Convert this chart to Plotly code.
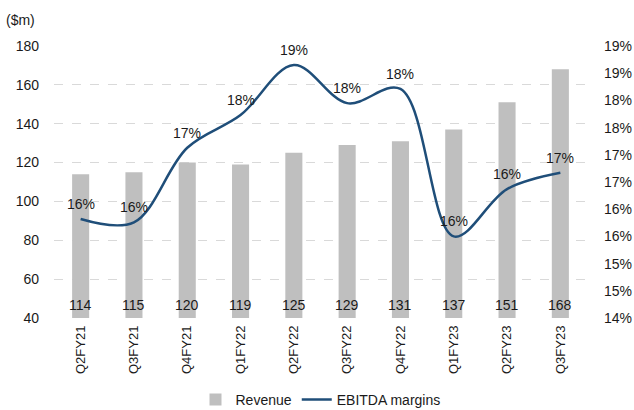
import plotly.graph_objects as go

categories = ["Q2FY21", "Q3FY21", "Q4FY21", "Q1FY22", "Q2FY22",
              "Q3FY22", "Q4FY22", "Q1FY23", "Q2FY23", "Q3FY23"]
revenue = [114, 115, 120, 119, 125, 129, 131, 137, 151, 168]
ebitda_margin = [15.82, 15.76, 17.13, 17.73, 18.65, 17.95, 18.21, 15.5, 16.37, 16.67]

right_ticks = [14 + 0.5 * i for i in range(11)]
right_ticktext = [f"{int(v + 0.5)}%" for v in right_ticks]

FONT = "Liberation Sans, Arial, sans-serif"
TXT = "#1a1a1a"
fig = go.Figure()
fig.add_trace(go.Bar(
    x=categories, y=[r - 40 for r in revenue], base=40, name="Revenue",
    marker=dict(color="#BFBFBF", line=dict(width=0)),
    hoverinfo="skip",
))
fig.add_trace(go.Scatter(
    x=categories, y=ebitda_margin, name="EBITDA margins", yaxis="y2",
    mode="lines", line=dict(color="#1F4E79", width=2.5, shape="spline", smoothing=1.0),
    cliponaxis=False,
))
for c, v in zip(categories, ebitda_margin):
    fig.add_annotation(x=c, y=v, yref="y2", text=f"{int(v + 0.5)}%", showarrow=False,
                       yanchor="middle", yshift=15,
                       font=dict(size=14, color=TXT, family=FONT))
for c, r in zip(categories, revenue):
    fig.add_annotation(x=c, y=40, yref="y", text=str(r), showarrow=False,
                       yanchor="bottom", yshift=3,
                       font=dict(size=14, color=TXT, family=FONT))
fig.add_annotation(xref="paper", yref="paper", x=-0.094, y=1.096, text="($m)",
                   showarrow=False, xanchor="left", yanchor="middle",
                   font=dict(size=14, color=TXT, family=FONT))

fig.update_layout(
    width=634, height=410,
    margin=dict(l=54, r=47, t=46, b=92, autoexpand=False),
    paper_bgcolor="white", plot_bgcolor="white",
    font=dict(family=FONT, size=14, color=TXT),
    bargap=0.68,
    showlegend=True,
    legend=dict(orientation="h", x=0.5, xanchor="center", yref="paper",
                y=-0.242, yanchor="top", font=dict(size=14), itemwidth=30,
                tracegroupgap=0, borderwidth=0, bgcolor="rgba(0,0,0,0)"),
    xaxis=dict(tickangle=-90, showgrid=False, showline=False, ticks="",
               tickfont=dict(size=13), automargin=False, ticklabelstandoff=4),
    yaxis=dict(range=[40, 180], dtick=20, showgrid=True, gridcolor="#D9D9D9",
               griddash="dash", gridwidth=1, zeroline=False, showline=False,
               ticks="", ticklabelstandoff=14, automargin=False),
    yaxis2=dict(range=[14, 19], overlaying="y", side="right", tickvals=right_ticks,
                ticktext=right_ticktext, showgrid=False, zeroline=False,
                showline=False, ticks="", ticklabelstandoff=16, automargin=False),
)
fig.write_html("out.html")
